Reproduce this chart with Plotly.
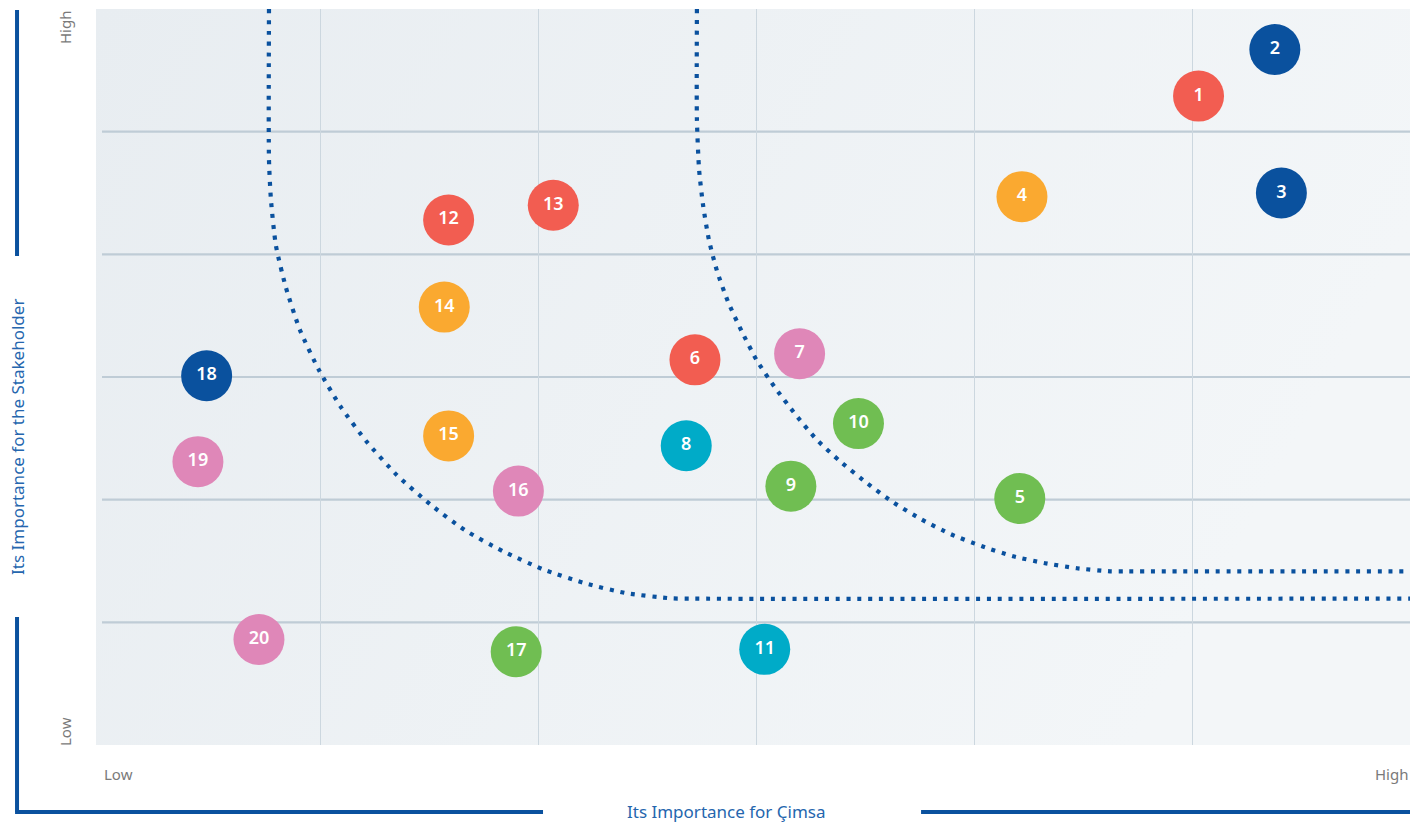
import base64
import plotly.graph_objects as go

# ---- data ----
labels = [str(i) for i in range(1, 21)]
importance_cimsa = [5.03, 5.38, 5.41, 4.22, 4.21, 2.72, 3.20, 2.68, 3.16, 3.47,
                    3.04, 1.59, 2.07, 1.57, 1.59, 1.91, 1.90, 0.48, 0.44, 0.72]
importance_stakeholder = [5.29, 5.67, 4.50, 4.47, 2.01, 3.14, 3.19, 2.44, 2.11, 2.62,
                          0.78, 4.28, 4.40, 3.57, 2.52, 2.07, 0.76, 3.01, 2.31, 0.86]
groups = ["red", "blue", "blue", "orange", "green", "red", "pink", "cyan", "green", "green",
          "cyan", "red", "red", "orange", "orange", "pink", "green", "blue", "pink", "pink"]

# threshold curves
curve1_x = [0.766, 0.766, 0.775, 0.798, 0.844, 0.908, 0.995, 1.096, 1.216, 1.353, 1.505,
            1.665, 1.839, 2.022, 2.216, 2.408, 2.610, 2.711, 6.0]
curve1_y = [6.0, 4.771, 4.445, 4.069, 3.727, 3.384, 3.057, 2.755, 2.469, 2.200, 1.963,
            1.751, 1.580, 1.433, 1.318, 1.237, 1.196, 1.193, 1.193]
curve2_x = [2.729, 2.729, 2.739, 2.757, 2.784, 2.821, 2.872, 2.936, 3.005, 3.092, 3.183,
            3.280, 3.390, 3.509, 3.628, 3.757, 3.894, 4.037, 4.179, 4.326, 4.472, 4.624,
            4.702, 6.0]
curve2_y = [6.0, 5.098, 4.690, 4.404, 4.118, 3.865, 3.612, 3.367, 3.131, 2.902, 2.690,
            2.486, 2.306, 2.135, 1.980, 1.841, 1.718, 1.620, 1.539, 1.482, 1.441, 1.416,
            1.416, 1.416]

grid_ticks = [1, 2, 3, 4, 5]

# ---- styles ----
palette = {"red": "#F25D51", "blue": "#0A519E", "orange": "#FAA930",
           "green": "#70BE52", "cyan": "#00ABC8", "pink": "#DF87B8"}
curve_color = "#0A519E"
title_color = "#2566AE"
tick_color = "#7A7A7A"
font_family = "Noto Sans, Open Sans, sans-serif"

fig = go.Figure()

for cx, cy in ((curve1_x, curve1_y), (curve2_x, curve2_y)):
    fig.add_trace(go.Scatter(
        x=cx, y=cy, mode="lines",
        line=dict(color=curve_color, width=4.2, dash="4px,6.8px", shape="spline", smoothing=0.6),
        hoverinfo="skip", showlegend=False))

fig.add_trace(go.Scatter(
    x=importance_cimsa, y=importance_stakeholder, mode="markers+text",
    text=labels, textposition="middle center",
    textfont=dict(color="white", size=18, family=font_family, weight=600),
    marker=dict(size=51, color=[palette[g] for g in groups], line=dict(width=0), opacity=1),
    showlegend=False))

# horizontal grid lines (from the plotting area's x=0)
shapes = []
for t in grid_ticks:
    shapes.append(dict(type="line", xref="x", yref="y", x0=0, x1=6, y0=t, y1=t,
                       line=dict(color="#BFCCD6", width=2.2), layer="below"))

# decorative frame lines (paper coordinates)
frame = dict(color="#0A519E", width=4)
shapes += [
    dict(type="line", xref="paper", yref="paper", x0=-0.0601, x1=-0.0601, y0=0.9986, y1=0.6644, line=frame),
    dict(type="line", xref="paper", yref="paper", x0=-0.0601, x1=-0.0601, y0=0.1739, y1=-0.0910, line=frame),
    dict(type="line", xref="paper", yref="paper", x0=-0.0616, x1=0.3402, y0=-0.0910, y1=-0.0910, line=frame),
    dict(type="line", xref="paper", yref="paper", x0=0.6279, x1=1.0, y0=-0.0910, y1=-0.0910, line=frame),
]

def note(text, x, y, size, color, xanchor="center", angle=0):
    return dict(text=text, x=x, y=y, xref="paper", yref="paper", textangle=angle,
                xanchor=xanchor, yanchor="middle", showarrow=False,
                font=dict(size=size, color=color, family=font_family))

annotations = [
    note("High", -0.0236, 0.9755, 15, tick_color, angle=-90),
    note("Low", -0.0236, 0.0190, 15, tick_color, angle=-90),
    note("Low", 0.0046, -0.0394, 15, tick_color, xanchor="left"),
    note("High", 1.0, -0.0394, 15, tick_color, xanchor="right"),
    note("Its Importance for Çimsa", 0.4802, -0.0897, 17, title_color),
    note("Its Importance for the Stakeholder", -0.0594, 0.4185, 17, title_color, angle=-90),
]

# subtle background gradient
svg = ('<svg xmlns="http://www.w3.org/2000/svg" width="200" height="100" preserveAspectRatio="none">'
       '<defs><linearGradient id="g" x1="0" y1="0" x2="1" y2="0.3">'
       '<stop offset="0" stop-color="#E8EDF1"/><stop offset="1" stop-color="#F3F6F8"/>'
       '</linearGradient></defs><rect width="200" height="100" fill="url(#g)"/></svg>')
bg_src = "data:image/svg+xml;base64," + base64.b64encode(svg.encode()).decode()

fig.update_layout(
    width=1424, height=823,
    margin=dict(l=96, r=14, t=9, b=78),
    paper_bgcolor="white", plot_bgcolor="#EEF2F5",
    font=dict(family=font_family),
    shapes=shapes, annotations=annotations,
    images=[dict(source=bg_src, xref="paper", yref="paper", x=0, y=1, sizex=1, sizey=1,
                 sizing="stretch", xanchor="left", yanchor="top", layer="below")],
    xaxis=dict(range=[-0.0275, 6], tickvals=grid_ticks, showticklabels=False, ticks="",
               showgrid=True, gridcolor="#CCD7DF", gridwidth=1.3, zeroline=False, showline=False,
               fixedrange=True),
    yaxis=dict(range=[0, 6], showticklabels=False, ticks="", showgrid=False,
               zeroline=False, showline=False, fixedrange=True),
)

fig.write_html("out.html")
